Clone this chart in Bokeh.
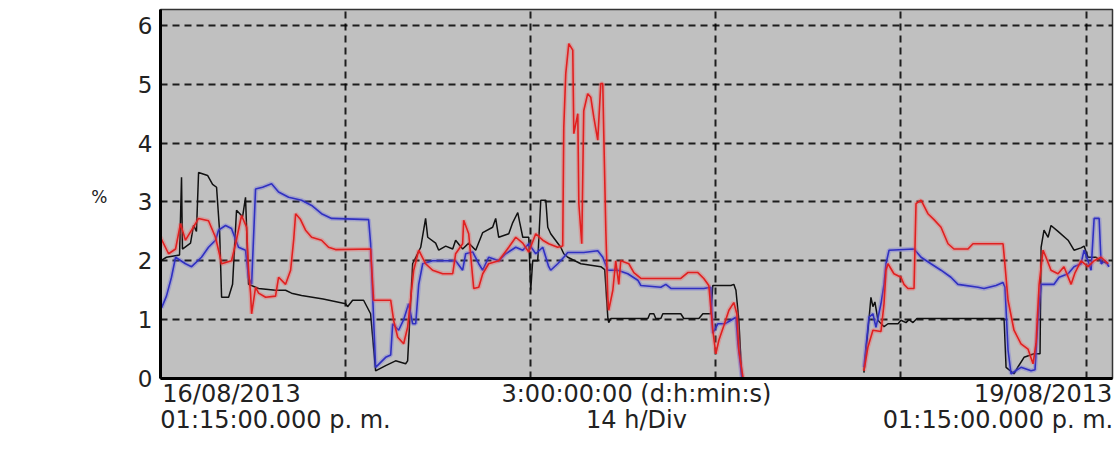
import numpy as np
from bokeh.plotting import figure
from bokeh.models import FixedTicker, LinearAxis, Range1d
from bokeh.embed import file_html
from bokeh.resources import INLINE

nan = float("nan")

# time in hours from 16/08/2013 01:15 p.m.; NaN = no data
black_t = [0.00, 0.45, 1.44, 1.59, 1.66, 2.27, 2.50, 2.72, 2.88, 3.56, 3.94, 4.24, 4.47, 4.62, 5.15, 5.45,
           5.75, 6.21, 6.43, 6.66, 7.42, 8.70, 9.46, 9.91, 10.67, 12.30, 14.00, 14.15, 14.53, 15.36, 15.89,
           16.27, 17.03, 17.78, 18.54, 18.69, 19.07, 19.68, 20.05, 20.21, 20.81, 21.04, 21.57, 22.10, 22.32,
           22.85, 23.31, 23.84, 24.37, 25.12, 25.35, 25.58, 26.34, 26.64, 27.02, 27.17, 27.40, 27.85, 28.00,
           28.15, 28.53, 28.76, 29.14, 29.29, 29.51, 30.27, 30.50, 30.80, 31.79, 33.30, 33.60, 33.83, 33.90,
           34.06, 36.86, 37.01, 37.31, 37.46, 37.84, 37.99, 39.35, 39.58, 40.72, 41.02, 41.62, 41.77, 43.14,
           43.36, 43.52, 43.74, 43.97, 48.0,
           53.20, 53.58, 53.73, 53.88, 54.03, 54.26, 54.72, 55.02, 55.78, 56.00, 56.38, 56.61, 56.91, 57.21,
           63.80, 63.95, 64.55, 64.86, 65.31, 66.07, 66.52, 66.60, 66.82, 67.13, 67.35, 67.88, 68.64, 69.09,
           69.62, 69.85, 70.15, 70.76, 71.14, 71.67]
black_v = [2.0, 2.06, 2.1, 3.42, 2.2, 2.3, 2.6, 2.5, 3.5, 3.45, 3.3, 3.25, 2.5, 1.38, 1.38, 1.6,
           2.86, 2.75, 3.08, 1.6, 1.53, 1.5, 1.5, 1.45, 1.41, 1.35, 1.27, 1.22, 1.33, 1.33, 1.1,
           0.13, 0.22, 0.3, 0.25, 0.3, 1.95, 2.23, 2.72, 2.4, 2.3, 2.18, 2.25, 2.2, 2.35,
           2.2, 2.3, 2.18, 2.48, 2.57, 2.72, 2.4, 2.46, 2.65, 2.82, 2.65, 2.4, 2.4, 1.5,
           2.0, 2.0, 3.03, 3.03, 2.57, 2.46, 2.23, 2.12, 2.06, 1.95, 1.9, 1.85, 1.04, 0.95,
           1.02, 1.02, 1.1, 1.1, 1.02, 1.02, 1.1, 1.1, 1.02, 1.02, 1.1, 1.1, 1.58, 1.58,
           1.6, 1.5, 0.99, 0.0, nan,
           0.1, 1.0, 1.38, 1.22, 1.3, 0.99, 0.88, 0.93, 0.93, 0.99, 0.95, 1.0, 0.95, 1.02,
           1.02, 0.19, 0.08, 0.2, 0.36, 0.42, 0.42, 2.23, 2.52, 2.4, 2.6, 2.5, 2.35, 2.18,
           2.22, 2.25, 2.06, 2.06, 2.0, 1.95]

blue_t = [0.08, 0.45, 0.83, 1.14, 1.89, 2.35, 3.10, 3.63, 4.16, 4.39, 4.92, 5.37, 5.90, 6.43, 6.66, 6.89,
          7.19, 7.72, 8.40, 8.93, 9.69, 10.67, 11.43, 12.18, 12.94, 15.74, 15.89, 16.12, 16.27, 17.03,
          17.41, 17.56, 18.01, 18.39, 18.77, 19.07, 19.30, 19.53, 19.83, 20.58, 22.32, 22.85, 23.08, 23.61,
          24.07, 24.37, 24.82, 25.58, 26.11, 26.87, 27.40, 27.85, 28.38, 28.91, 29.36, 29.51, 30.04, 30.50,
          30.80, 32.01, 33.07, 33.45, 33.83, 34.58, 35.34, 36.10, 36.33, 37.84, 38.22, 38.60, 41.09, 41.62,
          41.77, 42.15, 42.68, 43.14, 43.52, 43.67, 43.97, 48.0,
          53.20, 53.58, 53.88, 54.11, 54.49, 54.72, 54.87, 55.10, 56.99, 57.52, 58.27, 59.03, 59.78, 60.31,
          61.83, 62.28, 63.19, 63.72, 63.87, 64.10, 64.33, 65.08, 65.84, 66.14, 66.37, 66.60, 67.58, 67.96,
          68.64, 69.09, 69.62, 69.85, 70.15, 70.38, 70.61, 70.99, 71.14, 71.44, 71.74]
blue_v = [1.2, 1.4, 1.72, 2.06, 1.95, 1.9, 2.06, 2.23, 2.35, 2.52, 2.6, 2.55, 2.23, 2.18, 1.72, 1.6,
          3.22, 3.25, 3.31, 3.17, 3.08, 3.03, 2.94, 2.8, 2.72, 2.7, 2.3, 0.99, 0.19, 0.36,
          0.4, 0.93, 0.82, 1.0, 1.27, 0.93, 0.93, 1.6, 1.95, 2.0, 2.0, 1.84, 2.12, 2.15,
          1.95, 1.84, 2.06, 2.0, 2.12, 2.23, 2.18, 2.29, 2.12, 2.23, 1.9, 1.84, 1.95, 2.06,
          2.14, 2.14, 2.17, 2.06, 1.84, 1.84, 1.78, 1.67, 1.58, 1.55, 1.6, 1.53, 1.53, 1.55,
          0.77, 0.93, 0.93, 0.99, 1.04, 0.6, 0.0, nan,
          0.19, 1.04, 1.1, 0.87, 1.27, 1.6, 1.95, 2.18, 2.2, 2.06, 1.95, 1.84, 1.72, 1.6,
          1.55, 1.53, 1.58, 1.63, 1.55, 0.48, 0.08, 0.19, 0.13, 0.15, 1.04, 1.6, 1.6, 1.72,
          1.78, 1.9, 1.95, 2.18, 2.0, 1.84, 2.72, 2.72, 1.95, 2.0, 1.9]

red_t = [0.00, 0.61, 1.14, 1.51, 1.89, 2.35, 2.88, 3.63, 4.16, 4.39, 4.62, 5.37, 5.68, 6.13, 6.51, 6.66,
         6.81, 6.89, 7.19, 7.42, 7.95, 8.70, 8.93, 9.46, 9.84, 10.07, 10.22, 10.59, 10.97, 11.43, 12.18,
         12.71, 13.24, 15.89, 16.12, 17.41, 17.63, 17.94, 18.39, 18.69, 19.15, 19.53, 20.05, 20.58, 21.34,
         22.10, 22.32, 22.85, 22.93, 23.31, 23.61, 23.69, 24.07, 24.37, 24.82, 25.58, 26.34, 26.87, 27.40,
         27.85, 28.38, 28.91, 29.36, 30.04, 30.42, 30.50, 30.65, 30.88, 31.18, 31.26, 31.56, 31.64, 31.86,
         32.01, 32.31, 32.54, 32.77, 33.07, 33.30, 33.45, 33.52, 33.68, 33.83, 33.90, 34.21, 34.43, 34.66,
         34.81, 35.42, 35.80, 36.33, 39.35, 39.88, 40.64, 41.09, 41.47, 41.77, 42.00, 42.23, 42.61, 42.99,
         43.36, 43.59, 43.74, 44.05, 48.0,
         53.20, 53.50, 53.88, 54.49, 54.72, 54.87, 55.02, 55.47, 56.00, 56.23, 56.53, 56.99, 57.14, 57.52,
         58.04, 58.50, 59.03, 59.56, 60.01, 61.07, 61.45, 63.72, 63.80, 64.10, 64.55, 65.08, 65.61, 65.99,
         66.22, 66.45, 66.75, 66.97, 67.35, 67.88, 68.33, 68.87, 69.17, 69.62, 70.15, 70.61, 71.14, 71.67]
red_v = [2.4, 2.12, 2.2, 2.63, 2.35, 2.52, 2.72, 2.68, 2.4, 2.18, 1.95, 2.0, 2.29, 2.77, 2.57, 1.84,
         1.45, 1.1, 1.55, 1.45, 1.38, 1.4, 1.72, 1.6, 1.84, 2.35, 2.8, 2.7, 2.52, 2.4, 2.35,
         2.23, 2.19, 2.2, 1.33, 1.33, 0.99, 0.7, 0.59, 0.87, 1.84, 2.18, 1.95, 1.84, 1.78,
         1.78, 2.12, 2.29, 2.69, 2.46, 1.72, 1.53, 1.55, 1.78, 1.95, 2.0, 2.23, 2.4, 2.3,
         2.15, 2.46, 2.35, 2.29, 2.23, 2.25, 4.27, 5.18, 5.69, 5.58, 4.16, 4.5, 2.97, 2.29,
         4.55, 4.84, 4.78, 4.44, 4.05, 5.01, 5.01, 4.21, 2.52, 1.38, 1.16, 1.5, 2.0, 1.6,
         2.0, 1.95, 1.8, 1.7, 1.7, 1.8, 1.8, 1.7, 1.58, 0.82, 0.42, 0.65, 0.9, 1.16,
         1.29, 1.1, 0.48, 0.02, nan,
         0.13, 0.53, 0.82, 0.8, 1.27, 1.84, 1.95, 1.78, 1.72, 1.6, 1.53, 1.53, 2.97, 3.03,
         2.8, 2.7, 2.57, 2.29, 2.2, 2.2, 2.29, 2.29, 2.1, 1.33, 0.82, 0.59, 0.5, 0.25,
         0.6, 1.6, 2.18, 2.06, 1.84, 1.78, 1.9, 1.6, 1.8, 2.0, 1.9, 2.0, 2.06, 1.95]

x_grid_ticks = [14, 28, 42, 56, 70]
y_ticks = [0, 1, 2, 3, 4, 5, 6]
y_unit = "%"
row1_labels = {5.37: "16/08/2013", 36.0: "3:00:00:00 (d:h:min:s)", 66.75: "19/08/2013"}
row2_labels = {8.7: "01:15:00.000 p. m.", 36.0: "14 h/Div", 63.34: "01:15:00.000 p. m."}

FONT = "DejaVu Sans"
TXT = "#222222"

p = figure(width=1117, height=463, output_backend="svg", toolbar_location=None,
           x_range=Range1d(0, 72), y_range=Range1d(0, 6.27),
           min_border_left=160, min_border_right=5, min_border_top=9, min_border_bottom=85)
p.background_fill_color = "#c0c0c0"
p.border_fill_color = "white"
p.outline_line_color = "#333333"
p.outline_line_width = 1.5


def style_axis(ax, size, standoff):
    ax.major_tick_line_color = None
    ax.minor_tick_line_color = None
    ax.major_tick_out = 0
    ax.major_tick_in = 0
    ax.minor_tick_out = 0
    ax.minor_tick_in = 0
    ax.major_label_text_font = FONT
    ax.major_label_text_font_size = size
    ax.major_label_text_color = TXT
    ax.major_label_standoff = standoff


# main x axis: frame line + first row of labels
xa = p.xaxis[0]
xa.ticker = FixedTicker(ticks=list(row1_labels.keys()))
xa.major_label_overrides = row1_labels
style_axis(xa, "24px", 1)
xa.axis_line_width = 3
xa.axis_line_color = "black"

# second row of labels
xa2 = LinearAxis(ticker=FixedTicker(ticks=list(row2_labels.keys())), major_label_overrides=row2_labels)
style_axis(xa2, "24px", -5)
xa2.axis_line_color = None
p.add_layout(xa2, "below")

ya = p.yaxis[0]
ya.ticker = FixedTicker(ticks=y_ticks)
style_axis(ya, "23px", 8)
ya.axis_line_width = 3
ya.axis_line_color = "black"

ya2 = LinearAxis(ticker=FixedTicker(ticks=[3.09]), major_label_overrides={3.09: y_unit})
style_axis(ya2, "17px", 27)
ya2.axis_line_color = None
p.add_layout(ya2, "left")

p.xgrid.ticker = FixedTicker(ticks=x_grid_ticks)
p.ygrid.ticker = FixedTicker(ticks=[1, 2, 3, 4, 5, 6])
for g in (p.xgrid, p.ygrid):
    g.grid_line_color = "black"
    g.grid_line_alpha = 0.85
    g.grid_line_width = 2
    g.grid_line_dash = "7 5"

p.line(black_t, black_v, line_color="#111111", line_width=1.5)
p.line(blue_t, blue_v, line_color="#5a5ae6", line_width=4.5, line_alpha=0.3)
p.line(blue_t, blue_v, line_color="#3030c0", line_width=1.6)
p.line(red_t, red_v, line_color="#ff5050", line_width=4.5, line_alpha=0.3)
p.line(red_t, red_v, line_color="#e02020", line_width=1.6)

open("out.html", "w").write(file_html(p, INLINE))
